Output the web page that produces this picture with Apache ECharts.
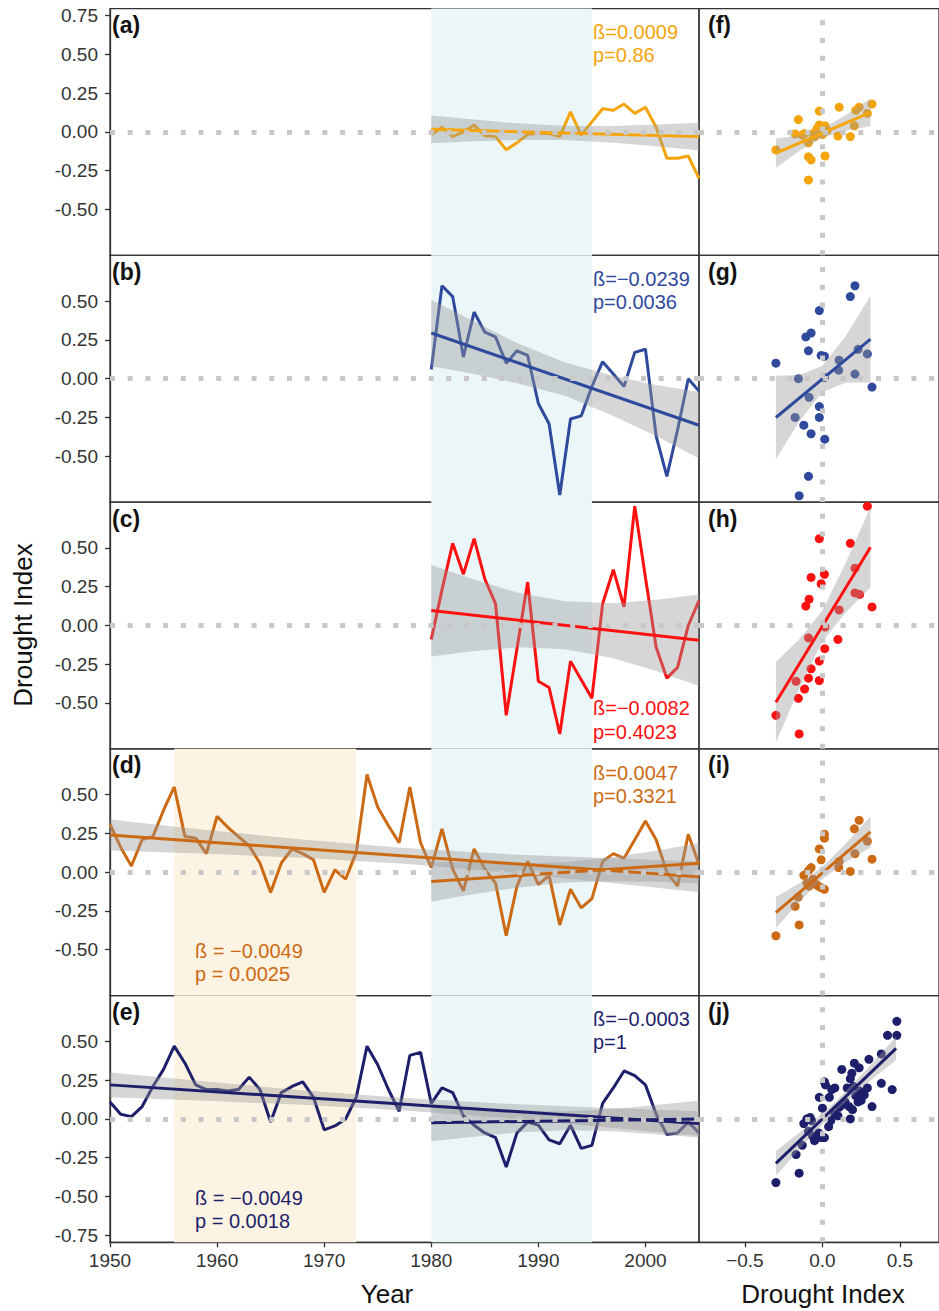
<!DOCTYPE html>
<html>
<head>
<meta charset="utf-8">
<script src="https://cdn.jsdelivr.net/npm/echarts@6/dist/echarts.min.js"></script>
<style>
  html, body { margin: 0; padding: 0; background: #fff; }
  #chart { width: 939px; height: 1311px; }
</style>
</head>
<body>
<div id="chart"></div>
<script>
// ---- data ----
const yearsLate = [1980, 1981, 1982, 1983, 1984, 1985, 1986, 1987, 1988, 1989, 1990, 1991, 1992,
  1993, 1994, 1995, 1996, 1997, 1998, 1999, 2000, 2001, 2002, 2003, 2004, 2005];
const yearsFull = [1950, 1951, 1952, 1953, 1954, 1955, 1956, 1957, 1958, 1959, 1960, 1961, 1962,
  1963, 1964, 1965, 1966, 1967, 1968, 1969, 1970, 1971, 1972, 1973, 1974, 1975, 1976, 1977, 1978,
  1979, 1980, 1981, 1982, 1983, 1984, 1985, 1986, 1987, 1988, 1989, 1990, 1991, 1992, 1993, 1994,
  1995, 1996, 1997, 1998, 1999, 2000, 2001, 2002, 2003, 2004, 2005];

const seriesA = [-0.02, 0.03, -0.03, 0.00, 0.045, -0.025, -0.03, -0.115, -0.07, -0.015, -0.01, -0.01, -0.03,
  0.13, -0.02, 0.065, 0.15, 0.14, 0.18, 0.12, 0.16, 0.03, -0.17, -0.17, -0.155, -0.30];
const seriesB = [0.06, 0.60, 0.53, 0.14, 0.43, 0.30, 0.27, 0.10, 0.18, 0.15, -0.16, -0.29, -0.75,
  -0.26, -0.24, -0.05, 0.11, 0.03, -0.05, 0.17, 0.19, -0.37, -0.63, -0.33, 0.00, -0.08];
const seriesC = [-0.09, 0.23, 0.53, 0.33, 0.56, 0.30, 0.14, -0.58, -0.15, 0.28, -0.36, -0.40, -0.70,
  -0.23, -0.35, -0.47, 0.14, 0.36, 0.12, 0.77, 0.31, -0.14, -0.34, -0.27, 0.00, 0.16];
const seriesD = [0.31, 0.16, 0.04, 0.21, 0.23, 0.40, 0.55, 0.23, 0.22, 0.12, 0.36, 0.29, 0.23, 0.17,
  0.06, -0.13, 0.06, 0.15, 0.12, 0.08, -0.13, 0.015, -0.045, 0.13, 0.63, 0.42, 0.30, 0.19, 0.55, 0.19,
  0.03, 0.28, 0.02, -0.12, 0.15, 0.02, -0.07, -0.41, -0.09, 0.07, -0.08, -0.02, -0.34, -0.11, -0.23,
  -0.17, 0.07, 0.12, 0.09, 0.21, 0.33, 0.21, 0.00, -0.09, 0.245, 0.05];
const seriesE = [0.11, 0.03, 0.015, 0.08, 0.21, 0.32, 0.47, 0.36, 0.22, 0.19, 0.19, 0.18, 0.19, 0.27,
  0.19, -0.02, 0.17, 0.21, 0.24, 0.14, -0.07, -0.045, 0.00, 0.14, 0.47, 0.35, 0.19, 0.05, 0.41, 0.43,
  0.10, 0.20, 0.17, 0.02, -0.04, -0.09, -0.12, -0.31, -0.09, -0.02, -0.04, -0.135, -0.16, -0.04, -0.19,
  -0.17, 0.10, 0.20, 0.31, 0.28, 0.22, 0.03, -0.10, -0.09, -0.02, -0.09];

// scatter panels (x: drought index, y: drought index)
const scatFx = [-0.30, -0.155, -0.176, -0.116, -0.09, -0.09, -0.073, -0.09, -0.02, -0.02, 0.0, 0.017, 0.017,
  0.108, 0.10, 0.18, 0.206, 0.215, 0.237, 0.29, 0.32, -0.13, -0.05, 0.03, -0.06, -0.035];
const scatFy = [-0.116, 0.08, -0.013, -0.01, -0.07, -0.16, -0.18, -0.31, 0.135, 0.045, -0.017, 0.04, -0.155,
  0.16, -0.026, -0.03, 0.04, 0.14, 0.16, 0.12, 0.18, -0.02, -0.03, 0.01, -0.01, 0.02];
const scatGx = [-0.30, -0.155, -0.176, -0.12, -0.073, -0.09, -0.15, -0.086, -0.09, -0.107, -0.073, -0.02, -0.008,
  0.013, 0.013, -0.02, -0.02, 0.015, 0.108, 0.105, 0.21, 0.23, 0.29, 0.32, 0.18, 0.21];
const scatGy = [0.10, 0.0, -0.25, -0.30, -0.355, -0.63, -0.755, -0.12, 0.18, 0.27, 0.295, 0.44, 0.15,
  0.145, 0.008, -0.18, -0.25, -0.39, 0.12, 0.055, 0.03, 0.19, 0.16, -0.054, 0.53, 0.60];
const scatHx = [-0.30, -0.15, -0.155, -0.17, -0.115, -0.09, -0.073, -0.02, -0.02, 0.015, -0.09, 0.017, 0.10,
  0.108, -0.107, -0.086, -0.073, -0.008, 0.013, -0.02, 0.18, 0.21, 0.21, 0.24, 0.32, 0.29];
const scatHy = [-0.58, -0.70, -0.47, -0.36, -0.41, -0.34, -0.28, -0.355, -0.23, -0.15, -0.08, -0.01, -0.09,
  0.10, 0.125, 0.17, 0.31, 0.27, 0.33, 0.56, 0.53, 0.37, 0.21, 0.20, 0.12, 0.77];
const scatIx = [-0.30, -0.15, -0.176, -0.155, -0.12, -0.09, -0.073, -0.10, -0.086, -0.025, -0.008, 0.013, -0.02,
  -0.008, 0.013, 0.013, 0.108, 0.105, 0.18, 0.21, 0.206, 0.237, 0.29, 0.32, -0.06, -0.04];
const scatIy = [-0.41, -0.34, -0.22, -0.16, -0.02, 0.01, 0.03, -0.07, -0.09, -0.09, -0.10, -0.11, 0.15,
  0.08, 0.245, 0.22, 0.07, 0.03, 0.005, 0.12, 0.28, 0.335, 0.20, 0.084, -0.045, -0.08];
const scatJx = [-0.30, -0.15, -0.17, -0.12, -0.10, -0.079, -0.064, -0.051, -0.025, -0.008, 0.013, -0.09, -0.02,
  0.0, 0.013, 0.02, 0.045, 0.06, 0.08, 0.04, 0.10, 0.108, 0.125, 0.146, 0.172, 0.18, 0.194, 0.18, 0.19,
  0.206, 0.237, 0.215, 0.23, 0.25, 0.27, 0.29, 0.30, 0.32, 0.38, 0.38, 0.42, 0.45, 0.48, 0.48, 0.16,
  0.20, 0.125, 0.08, 0.054, -0.07, -0.043, -0.13, 0.22, 0.24];
const scatJy = [-0.41, -0.35, -0.23, -0.03, 0.0, 0.01, -0.11, -0.14, -0.09, -0.12, -0.12, -0.08, 0.14,
  0.07, 0.24, 0.22, 0.14, 0.19, 0.20, -0.05, 0.02, 0.075, 0.32, 0.11, 0.08, 0.0, 0.06, 0.26, 0.295,
  0.36, 0.33, 0.15, 0.11, 0.12, 0.155, 0.20, 0.385, 0.08, 0.23, 0.42, 0.54, 0.19, 0.54, 0.63, 0.20,
  0.21, 0.09, 0.03, -0.01, -0.01, -0.12, -0.17, 0.15, 0.18];

// fitted lines (end points)
const fitLateX = [1980, 2005];
const fitFullX = [1950, 2005];
const fitAy = [0.017, -0.03];
const fitBy = [0.295, -0.30];
const fitCy = [0.097, -0.095];
const fitDy = [-0.06, 0.058];
const fitDlongY = [0.24, -0.03];
const fitEy = [-0.024, 0.0];
const fitElongY = [0.22, -0.03];
const fitScatX = [-0.30, 0.31];
const fitFy = [-0.137, 0.127];
const fitGy = [-0.25, 0.256];
const fitHy = [-0.495, 0.505];
const fitIy = [-0.26, 0.26];
const fitJx = [-0.30, 0.475];
const fitJy = [-0.286, 0.456];

// confidence bands
const bandLateX = [1980, 1984, 1988, 1992.5, 1997, 2001, 2005];
const bandFullX = [1950, 1959, 1968, 1977.5, 1987, 1996, 2005];
const bandAlo = [-0.073, -0.06, -0.052, -0.052, -0.069, -0.092, -0.12];
const bandAhi = [0.107, 0.08, 0.056, 0.04, 0.039, 0.048, 0.06];
const bandBlo = [0.08, 0.03, -0.03, -0.11, -0.24, -0.37, -0.515];
const bandBhi = [0.51, 0.37, 0.23, 0.105, 0.02, -0.04, -0.085];
const bandClo = [-0.20, -0.164, -0.141, -0.154, -0.211, -0.294, -0.39];
const bandChi = [0.39, 0.296, 0.213, 0.156, 0.143, 0.166, 0.20];
const bandDlo = [-0.19, -0.141, -0.10, -0.067, -0.058, -0.061, -0.072];
const bandDhi = [0.07, 0.059, 0.056, 0.065, 0.098, 0.139, 0.188];
const bandDlongLo = [0.14, 0.119, 0.093, 0.054, -0.001, -0.063, -0.13];
const bandDlongHi = [0.34, 0.273, 0.211, 0.156, 0.117, 0.091, 0.07];
const bandElo = [-0.144, -0.114, -0.088, -0.073, -0.08, -0.098, -0.12];
const bandEhi = [0.096, 0.074, 0.056, 0.049, 0.064, 0.09, 0.12];
const bandElongLo = [0.14, 0.117, 0.091, 0.055, 0.005, -0.051, -0.11];
const bandElongHi = [0.30, 0.241, 0.185, 0.135, 0.099, 0.073, 0.05];
const bandScatX = [-0.30, -0.15, 0, 0.15, 0.31];
const bandFlo = [-0.232, -0.122, -0.037, 0.008, 0.037];
const bandFhi = [-0.042, -0.022, 0.023, 0.108, 0.217];
const bandGlo = [-0.52, -0.276, -0.086, -0.026, -0.024];
const bandGhi = [0.02, 0.024, 0.084, 0.274, 0.536];
const bandHlo = [-0.755, -0.409, -0.103, 0.083, 0.245];
const bandHhi = [-0.235, -0.089, 0.097, 0.403, 0.765];
const bandIlo = [-0.36, -0.192, -0.044, 0.064, 0.16];
const bandIhi = [-0.16, -0.072, 0.036, 0.184, 0.36];
const bandJx = [-0.30, -0.10, 0.09, 0.28, 0.475];
const bandJlo = [-0.366, -0.14, 0.057, 0.224, 0.381];
const bandJhi = [-0.206, -0.05, 0.117, 0.314, 0.531];

const yTicksTop = [-0.5, -0.25, 0, 0.25, 0.5, 0.75];
const yTicksMid = [-0.5, -0.25, 0, 0.25, 0.5];
const yTicksBottom = [-0.75, -0.5, -0.25, 0, 0.25, 0.5];
const xTicksYear = [1950, 1960, 1970, 1980, 1990, 2000];
const xTicksScatter = [-0.5, 0, 0.5];

// ---- styling ----
const FONT = '"Liberation Sans", Arial, sans-serif';
const colA = '#F5A40C';
const colB = '#2F4A9C';
const colC = '#FF1010';
const colD = '#CC6A14';
const colE = '#1D1F6B';
const blueBand = '#EAF6F8';
const beigeBand = '#FDF3E2';
const bandFill = 'rgba(153,153,153,0.4)';
const LW = 3;

const H = 246.75;
const rowTop = [8.6, 255.35, 502.1, 748.85, 995.6];
const yMin = -0.796, yMax = 0.796;

const grids = [], xAxes = [], yAxes = [], series = [];

rowTop.forEach((top, r) => {
  const last = r === 4;
  grids.push({ left: 110, top: top, width: 589, height: H, show: true, borderColor: '#333', borderWidth: 1.3 });
  grids.push({ left: 699, top: top, width: 240, height: H, show: true, borderColor: '#333', borderWidth: 1.3 });
  const yt = r === 0 ? yTicksTop : (r === 4 ? yTicksBottom : yTicksMid);
  xAxes.push({
    gridIndex: 2 * r, type: 'value', min: 1950, max: 2005,
    axisLine: { show: last, onZero: false, lineStyle: { color: '#333', width: 1.3 } },
    axisTick: { show: last, length: 5, customValues: xTicksYear, lineStyle: { color: '#333', width: 1.3 } },
    axisLabel: { show: last, color: '#333', fontSize: 19, fontFamily: FONT, margin: 9,
      customValues: xTicksYear, formatter: v => String(v) },
    splitLine: { show: false }
  });
  xAxes.push({
    gridIndex: 2 * r + 1, type: 'value', min: -0.796, max: 0.752,
    axisLine: { show: last, onZero: false, lineStyle: { color: '#333', width: 1.3 } },
    axisTick: { show: last, length: 5, customValues: xTicksScatter, lineStyle: { color: '#333', width: 1.3 } },
    axisLabel: { show: last, color: '#333', fontSize: 19, fontFamily: FONT, margin: 9,
      customValues: xTicksScatter,
      formatter: v => (v < 0 ? '\u2212' : '') + Math.abs(v).toFixed(1) },
    splitLine: { show: false }
  });
  yAxes.push({
    gridIndex: 2 * r, type: 'value', min: yMin, max: yMax,
    axisLine: { show: true, onZero: false, lineStyle: { color: '#333', width: 1.3 } },
    axisTick: { show: true, length: 5, customValues: yt, lineStyle: { color: '#333', width: 1.3 } },
    axisLabel: { color: '#333', fontSize: 19, fontFamily: FONT, margin: 12, customValues: yt,
      formatter: v => v.toFixed(2) },
    splitLine: { show: false }
  });
  yAxes.push({
    gridIndex: 2 * r + 1, type: 'value', min: yMin, max: yMax,
    axisLine: { show: false, onZero: false }, axisTick: { show: false }, axisLabel: { show: false },
    splitLine: { show: false }
  });
});

function pairs(xs, ys) { return xs.map((x, k) => [x, ys[k]]); }

function timeLine(idx, years, vals, color, areas) {
  return {
    type: 'line', xAxisIndex: idx, yAxisIndex: idx, z: 2, silent: true,
    data: pairs(years, vals), symbol: 'none',
    lineStyle: { color: color, width: LW }, itemStyle: { color: color },
    markArea: {
      silent: true,
      data: areas.map(a => [{ xAxis: a[0], itemStyle: { color: a[2] } }, { xAxis: a[1] }])
    }
  };
}

function band(idx, bx, lo, hi) {
  return {
    type: 'custom', xAxisIndex: idx, yAxisIndex: idx, z: 3, silent: true,
    data: bx.map((x, k) => [x, lo[k], hi[k]]),
    encode: { x: 0, y: 1 },
    renderItem: (params, api) => {
      if (params.dataIndex !== 0) return null;
      const pts = [];
      for (let k = 0; k < bx.length; k++) pts.push(api.coord([bx[k], hi[k]]));
      for (let k = bx.length - 1; k >= 0; k--) pts.push(api.coord([bx[k], lo[k]]));
      return { type: 'polygon', shape: { points: pts }, style: { fill: bandFill } };
    }
  };
}

function fitLine(idx, xs, ys, color, zeroMarks) {
  const s = {
    type: 'line', xAxisIndex: idx, yAxisIndex: idx, z: 4, silent: true,
    data: pairs(xs, ys), symbol: 'none',
    lineStyle: { color: color, width: LW }, itemStyle: { color: color }
  };
  if (zeroMarks) {
    s.markLine = {
      silent: true, symbol: ['none', 'none'], animation: false,
      label: { show: false },
      data: zeroMarks.map(m => Object.assign({
        lineStyle: { color: '#C8C8C8', width: 5, type: [5, 12.7], opacity: 1 }
      }, m))
    };
  }
  return s;
}

function dots(idx, xs, ys, color) {
  return {
    type: 'scatter', xAxisIndex: idx, yAxisIndex: idx, z: 2, silent: true,
    data: pairs(xs, ys), symbolSize: 9, itemStyle: { color: color, opacity: 1 }
  };
}

const lateAreas = [[1980, 1995, blueBand]];
const fullAreas = [[1956, 1973, beigeBand], [1980, 1995, blueBand]];
const hZero = [{ yAxis: 0 }];
const hvZero = [{ yAxis: 0 }, { xAxis: 0 }];

// row a / f
series.push(timeLine(0, yearsLate, seriesA, colA, lateAreas));
series.push(band(0, bandLateX, bandAlo, bandAhi));
series.push(fitLine(0, fitLateX, fitAy, colA, hZero));
series.push(dots(1, scatFx, scatFy, colA));
series.push(band(1, bandScatX, bandFlo, bandFhi));
series.push(fitLine(1, fitScatX, fitFy, colA, hvZero));
// row b / g
series.push(timeLine(2, yearsLate, seriesB, colB, lateAreas));
series.push(band(2, bandLateX, bandBlo, bandBhi));
series.push(fitLine(2, fitLateX, fitBy, colB, hZero));
series.push(dots(3, scatGx, scatGy, colB));
series.push(band(3, bandScatX, bandGlo, bandGhi));
series.push(fitLine(3, fitScatX, fitGy, colB, hvZero));
// row c / h
series.push(timeLine(4, yearsLate, seriesC, colC, lateAreas));
series.push(band(4, bandLateX, bandClo, bandChi));
series.push(fitLine(4, fitLateX, fitCy, colC, hZero));
series.push(dots(5, scatHx, scatHy, colC));
series.push(band(5, bandScatX, bandHlo, bandHhi));
series.push(fitLine(5, fitScatX, fitHy, colC, hvZero));
// row d / i
series.push(timeLine(6, yearsFull, seriesD, colD, fullAreas));
series.push(band(6, bandFullX, bandDlongLo, bandDlongHi));
series.push(band(6, bandLateX, bandDlo, bandDhi));
series.push(fitLine(6, fitFullX, fitDlongY, colD, null));
series.push(fitLine(6, fitLateX, fitDy, colD, hZero));
series.push(dots(7, scatIx, scatIy, colD));
series.push(band(7, bandScatX, bandIlo, bandIhi));
series.push(fitLine(7, fitScatX, fitIy, colD, hvZero));
// row e / j
series.push(timeLine(8, yearsFull, seriesE, colE, fullAreas));
series.push(band(8, bandFullX, bandElongLo, bandElongHi));
series.push(band(8, bandLateX, bandElo, bandEhi));
series.push(fitLine(8, fitFullX, fitElongY, colE, null));
series.push(fitLine(8, fitLateX, fitEy, colE, hZero));
series.push(dots(9, scatJx, scatJy, colE));
series.push(band(9, bandJx, bandJlo, bandJhi));
series.push(fitLine(9, fitJx, fitJy, colE, hvZero));

// ---- text ----
function txt(x, y, text, color, size) {
  return {
    type: 'text', x: x, y: y, silent: true, z: 100,
    style: { text: text, fill: color, font: size + 'px ' + FONT, align: 'left', verticalAlign: 'middle' }
  };
}
function panelLabel(x, y, text) {
  return {
    type: 'text', x: x, y: y, silent: true, z: 100,
    style: { text: text, fill: '#111', font: 'bold 23px ' + FONT, align: 'left', verticalAlign: 'middle' }
  };
}

const graphics = [
  panelLabel(112, 25, '(a)'), panelLabel(112, 272, '(b)'), panelLabel(112, 519, '(c)'),
  panelLabel(112, 765, '(d)'), panelLabel(112, 1012, '(e)'),
  panelLabel(708, 25, '(f)'), panelLabel(708, 272, '(g)'), panelLabel(708, 519, '(h)'),
  panelLabel(708, 765, '(i)'), panelLabel(708, 1012, '(j)'),
  txt(593, 32, '\u00DF=0.0009', colA, 20), txt(593, 55, 'p=0.86', colA, 20),
  txt(593, 279, '\u00DF=\u22120.0239', colB, 20), txt(593, 302, 'p=0.0036', colB, 20),
  txt(593, 708, '\u00DF=\u22120.0082', colC, 20), txt(593, 732, 'p=0.4023', colC, 20),
  txt(593, 773, '\u00DF=0.0047', colD, 20), txt(593, 796, 'p=0.3321', colD, 20),
  txt(195, 951, '\u00DF = \u22120.0049', colD, 20), txt(195, 974, 'p = 0.0025', colD, 20),
  txt(593, 1019, '\u00DF=\u22120.0003', colE, 20), txt(593, 1042, 'p=1', colE, 20),
  txt(195, 1198, '\u00DF = \u22120.0049', colE, 20), txt(195, 1221, 'p = 0.0018', colE, 20),
  {
    type: 'text', x: 387, y: 1294, silent: true,
    style: { text: 'Year', fill: '#111', font: '26px ' + FONT, align: 'center', verticalAlign: 'middle' }
  },
  {
    type: 'text', x: 823, y: 1294, silent: true,
    style: { text: 'Drought Index', fill: '#111', font: '26px ' + FONT, align: 'center', verticalAlign: 'middle' }
  },
  {
    type: 'text', x: 23, y: 625, rotation: Math.PI / 2, silent: true,
    style: { text: 'Drought Index', fill: '#111', font: '26px ' + FONT, align: 'center', verticalAlign: 'middle' }
  }
];

const chart = echarts.init(document.getElementById('chart'), null, { renderer: 'svg' });
chart.setOption({
  animation: false,
  backgroundColor: '#fff',
  textStyle: { fontFamily: FONT },
  grid: grids,
  xAxis: xAxes,
  yAxis: yAxes,
  series: series,
  graphic: graphics
});
</script>
</body>
</html>
